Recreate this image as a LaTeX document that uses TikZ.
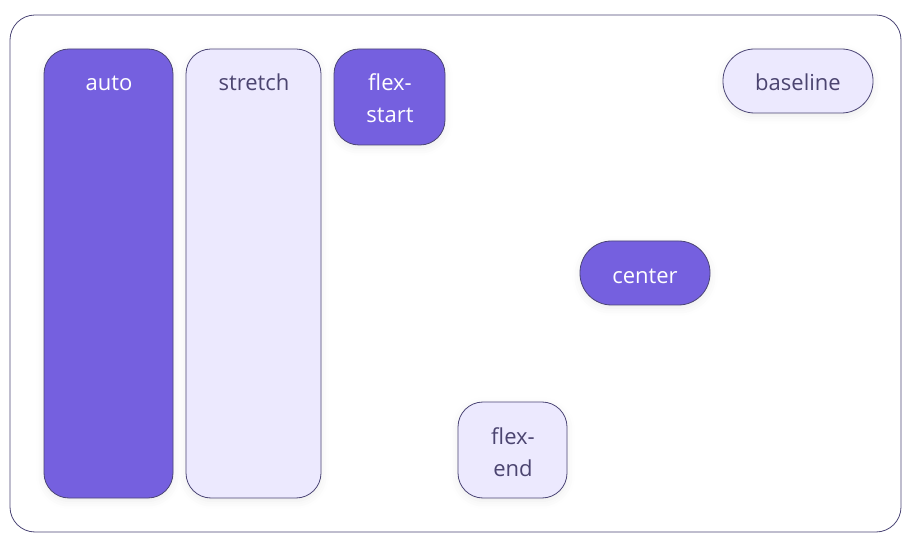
\documentclass[tikz,border=0pt]{standalone}
\usepackage{fontspec}
\setmainfont{Open Sans}
\usetikzlibrary{shadows.blur}
\definecolor{purp}{HTML}{7560DF}
\definecolor{lav}{HTML}{ECE9FE}
\definecolor{edge}{HTML}{4B4575}
\definecolor{dtext}{HTML}{4B4470}
\tikzset{
  box/.style={draw=edge, line width=0.8pt, rounded corners=25pt, inner sep=0pt,
    blur shadow={shadow xshift=0pt, shadow yshift=-3pt, shadow blur radius=8pt, shadow opacity=8}},
  pill/.style={box, rounded corners=31.5pt},
  dark/.style={fill=purp},
  light/.style={fill=lav},
  lbl/.style={font=\fontsize{22}{32}\selectfont, align=center, inner sep=0pt, anchor=base},
  wt/.style={lbl, text=white},
  dt/.style={lbl, text=dtext},
}
\begin{document}
\begin{tikzpicture}[x=1pt,y=-1pt]
\useasboundingbox (0,0) rectangle (911,545);
\node[draw=edge, line width=0.8pt, rounded corners=25pt, minimum width=891pt, minimum height=517pt, inner sep=0pt] (outer) at (455.5,273.5) {};
\node[box, dark, minimum width=129pt, minimum height=449pt] (auto) at (108.5,273.5) {};
\node[box, light, minimum width=135pt, minimum height=449pt] (stretch) at (253.5,273.5) {};
\node[box, dark, minimum width=111pt, minimum height=96pt] (fstart) at (389.5,97) {};
\node[pill, light, minimum width=150pt, minimum height=64pt] (base) at (798,81) {};
\node[pill, dark, minimum width=130pt, minimum height=64pt] (center) at (645,273) {};
\node[box, light, minimum width=109pt, minimum height=96pt] (fend) at (512.5,450) {};
\node[wt] (tauto) at (109,91) {auto};
\node[dt] (tstretch) at (254,91) {stretch};
\node[wt] (tfstart) at (390,91) {flex-};
\node[wt] (tfstart2) at (390,123) {start};
\node[dt] (tbase) at (798,91) {baseline};
\node[wt] (tcenter) at (645,284) {center};
\node[dt] (tfend) at (513,444) {flex-};
\node[dt] (tfend2) at (513,476) {end};
\end{tikzpicture}
\end{document}
